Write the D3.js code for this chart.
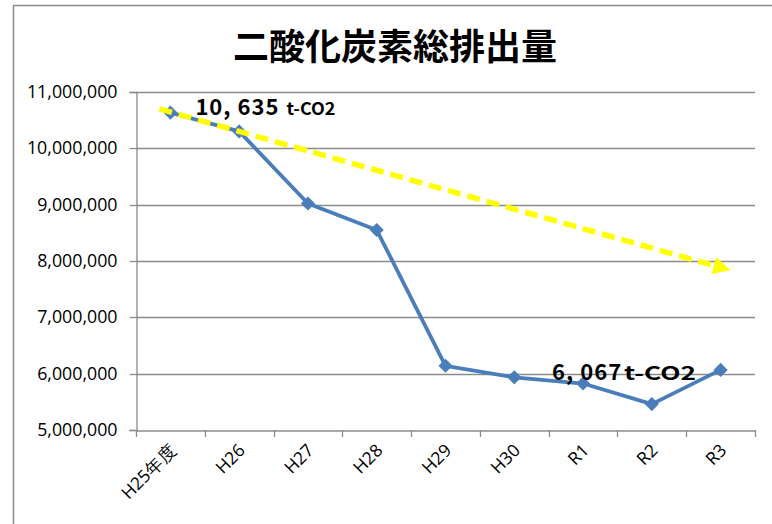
<!DOCTYPE html>
<html><head><meta charset="utf-8">
<script src="https://cdn.jsdelivr.net/npm/d3@7"></script>
<style>body{margin:0;background:#fff}svg{display:block}</style>
</head><body>
<svg id="c" width="772" height="524"></svg>
<script>
const title = "二酸化炭素総排出量";
const categories = ["H25年度","H26","H27","H28","H29","H30","R1","R2","R3"];
const emissions = [10635000,10300000,9020000,8550000,6140000,5935000,5825000,5460000,6067000];
const yTicks = [5000000,6000000,7000000,8000000,9000000,10000000,11000000];
const trendStart = {i:-0.16, v:10700000};
const trendEnd = {i:8.13, v:7840000};
const labels = [
  {i:0, v:10635000, big:"10, 635", small:"t-CO2"},
  {i:6, v:6067000, big:"6, 067", small:"t-CO2"}
];
// label layout (style): offset from point, gap, unit-text width
const labelStyle = [
  {dx:25, dy:2.5, gap:7, unitW:49, unitSize:17},
  {dx:-31, dy:10, gap:2, unitW:72, unitSize:19}
];

const svg = d3.select("#c");
const M = {l:136, r:755, t:92, b:430};
const x = d3.scaleBand().domain(categories).range([M.l, M.r]);
const y = d3.scaleLinear().domain([5000000, 11000000]).range([M.b, M.t]);
const xc = i => M.l + x.step()*(i+0.5);

// outer frame
svg.append("rect").attr("x",13.5).attr("y",5.5).attr("width",800).attr("height",600)
  .attr("fill","none").attr("stroke","#8c8c8c").attr("stroke-width",1.5);

// title
svg.append("text").attr("x",395).attr("y",60).attr("text-anchor","middle")
  .attr("font-family","'Noto Sans CJK JP'").attr("font-weight","bold").attr("font-size",36)
  .attr("fill","#000").text(title);

// gridlines
svg.append("g").selectAll("line").data(yTicks.slice(1)).join("line")
  .attr("x1",M.l).attr("x2",M.r).attr("y1",d=>Math.round(y(d))+0.5).attr("y2",d=>Math.round(y(d))+0.5)
  .attr("stroke","#8c8c8c").attr("stroke-width",1.3);

// y axis
const yAxis = d3.axisLeft(y).tickValues(yTicks).tickSize(7).tickPadding(12).tickFormat(d3.format(","));
const gy = svg.append("g").attr("transform",`translate(${M.l+0.5},0)`).call(yAxis);
gy.select(".domain").attr("stroke","#8c8c8c").attr("stroke-width",1.3);
gy.selectAll(".tick line").attr("stroke","#8c8c8c").attr("stroke-width",1.3);
gy.selectAll(".tick").attr("transform",d=>`translate(0,${Math.round(y(d))+0.5})`);
gy.selectAll("text").attr("font-family","'Open Sans'").attr("font-size",17.8).attr("fill","#000");

// x axis
const xAxis = d3.axisBottom(x).tickSize(0).tickPadding(0);
const gx = svg.append("g").attr("transform",`translate(0,${M.b+0.5})`).call(xAxis);
gx.select(".domain").attr("stroke","#8c8c8c").attr("stroke-width",1.3);
gx.selectAll(".tick text").attr("font-family","'Open Sans'").attr("font-size",17.5).attr("fill","#000")
  .attr("text-anchor","end").attr("dy",0)
  .attr("transform","translate(7,21) rotate(-45)");
// boundary tick marks
svg.append("g").selectAll("line").data(d3.range(categories.length+1)).join("line")
  .attr("x1",i=>Math.round(M.l+x.step()*i)+0.5).attr("x2",i=>Math.round(M.l+x.step()*i)+0.5)
  .attr("y1",M.b).attr("y2",M.b+7).attr("stroke","#8c8c8c").attr("stroke-width",1.3);

// series line
const line = d3.line().x((d,i)=>xc(i)).y(d=>y(d));
svg.append("path").datum(emissions).attr("d",line).attr("fill","none")
  .attr("stroke","#4a7ebb").attr("stroke-width",3.8).attr("stroke-linejoin","round");
svg.append("g").selectAll("path").data(emissions).join("path")
  .attr("d",d3.symbol(d3.symbolSquare, 100))
  .attr("transform",(d,i)=>`translate(${xc(i)},${y(d)}) rotate(45)`)
  .attr("fill","#4a7ebb");

// trend arrow
const defs = svg.append("defs");
defs.append("marker").attr("id","ah").attr("viewBox","0 0 10 10").attr("refX",2).attr("refY",5)
  .attr("markerWidth",3.2).attr("markerHeight",3.2).attr("orient","auto").attr("markerUnits","strokeWidth")
  .append("path").attr("d","M0,0 L10,5 L0,10 Z").attr("fill","#ffff00");
const sx = xc(trendStart.i), sy = y(trendStart.v), ex = xc(trendEnd.i), ey = y(trendEnd.v);
const len = Math.hypot(ex-sx, ey-sy), k = (len-13)/len;
svg.append("line").attr("x1",sx).attr("y1",sy).attr("x2",sx+(ex-sx)*k).attr("y2",sy+(ey-sy)*k)
  .attr("stroke","#ffff00").attr("stroke-width",5.5).attr("stroke-dasharray","13,7")
  .attr("marker-end","url(#ah)");

// value labels
labels.forEach((d,j)=>{
  const st = labelStyle[j];
  const lx = xc(d.i)+st.dx, ly = y(d.v)+st.dy;
  const t = svg.append("text").attr("x",lx).attr("y",ly)
    .attr("font-family","'Noto Sans CJK JP'").attr("font-weight","bold").attr("fill","#000")
    .attr("font-size",22).attr("letter-spacing",1).text(d.big);
  const w = t.node().getComputedTextLength();
  svg.append("text").attr("x",lx+w+st.gap).attr("y",ly)
    .attr("font-family","'Noto Sans CJK JP'").attr("font-weight","bold").attr("fill","#000")
    .attr("font-size",st.unitSize).attr("textLength",st.unitW).attr("lengthAdjust","spacingAndGlyphs")
    .text(d.small);
});
</script>
</body></html>
